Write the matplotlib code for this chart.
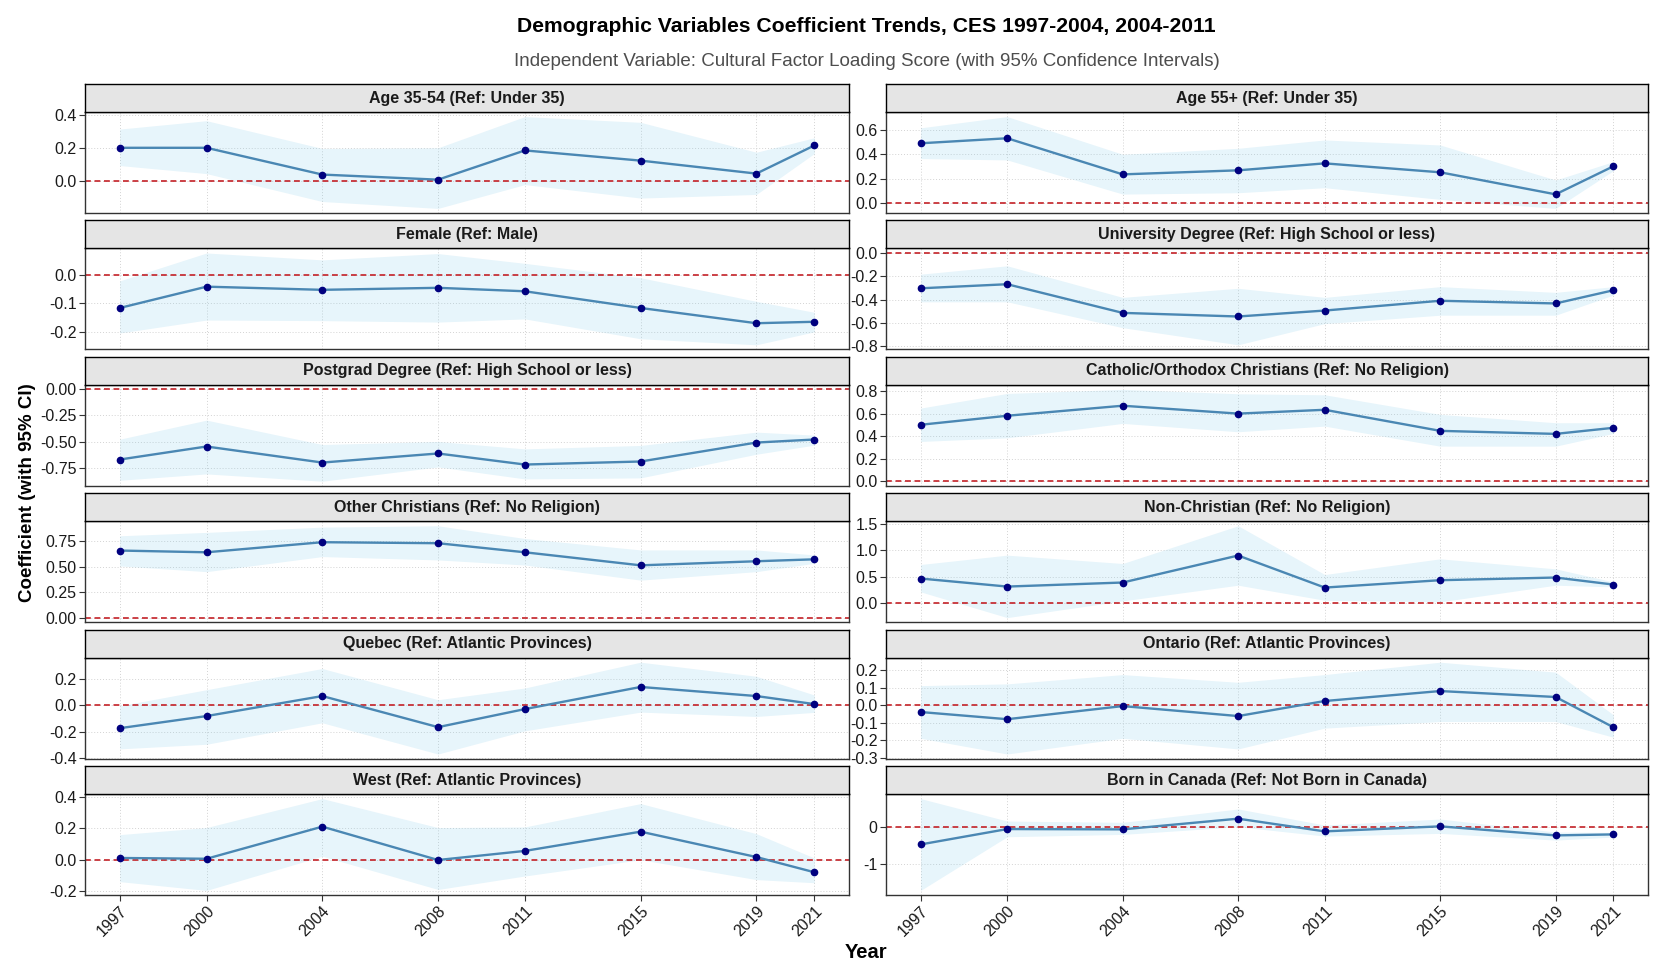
import numpy as np
import matplotlib
matplotlib.use("Agg")
import matplotlib.pyplot as plt

plt.rcParams['font.family'] = ['Liberation Sans', 'DejaVu Sans']

years = [1997, 2000, 2004, 2008, 2011, 2015, 2019, 2021]

titles = [
    "Age 35-54 (Ref: Under 35)", "Age 55+ (Ref: Under 35)",
    "Female (Ref: Male)", "University Degree (Ref: High School or less)",
    "Postgrad Degree (Ref: High School or less)", "Catholic/Orthodox Christians (Ref: No Religion)",
    "Other Christians (Ref: No Religion)", "Non-Christian (Ref: No Religion)",
    "Quebec (Ref: Atlantic Provinces)", "Ontario (Ref: Atlantic Provinces)",
    "West (Ref: Atlantic Provinces)", "Born in Canada (Ref: Not Born in Canada)",
]

# coefficients
age3554_est = [0.200, 0.200, 0.037, 0.006, 0.184, 0.122, 0.043, 0.214]
age3554_lo  = [0.092, 0.043, -0.127, -0.169, -0.024, -0.106, -0.084, 0.165]
age3554_hi  = [0.314, 0.365, 0.196, 0.200, 0.390, 0.355, 0.173, 0.261]

age55_est = [0.491, 0.532, 0.237, 0.270, 0.327, 0.254, 0.074, 0.303]
age55_lo  = [0.366, 0.355, 0.076, 0.087, 0.128, 0.033, -0.041, 0.267]
age55_hi  = [0.617, 0.709, 0.401, 0.450, 0.518, 0.477, 0.191, 0.341]

female_est = [-0.116, -0.042, -0.053, -0.046, -0.058, -0.116, -0.169, -0.164]
female_lo  = [-0.203, -0.158, -0.160, -0.165, -0.154, -0.223, -0.244, -0.199]
female_hi  = [-0.022, 0.075, 0.051, 0.073, 0.039, -0.011, -0.093, -0.131]

univ_est = [-0.303, -0.268, -0.514, -0.545, -0.494, -0.410, -0.433, -0.320]
univ_lo  = [-0.419, -0.419, -0.641, -0.788, -0.606, -0.534, -0.534, -0.361]
univ_hi  = [-0.182, -0.110, -0.381, -0.303, -0.381, -0.289, -0.338, -0.289]

postgrad_est = [-0.673, -0.548, -0.702, -0.615, -0.721, -0.692, -0.510, -0.481]
postgrad_lo  = [-0.872, -0.811, -0.881, -0.744, -0.859, -0.849, -0.622, -0.535]
postgrad_hi  = [-0.478, -0.295, -0.529, -0.500, -0.571, -0.538, -0.410, -0.439]

catholic_est = [0.501, 0.581, 0.670, 0.600, 0.634, 0.447, 0.420, 0.474]
catholic_lo  = [0.353, 0.385, 0.513, 0.439, 0.489, 0.311, 0.311, 0.424]
catholic_hi  = [0.649, 0.779, 0.815, 0.776, 0.767, 0.593, 0.519, 0.519]

otherchr_est = [0.658, 0.641, 0.740, 0.730, 0.641, 0.513, 0.553, 0.572]
otherchr_lo  = [0.507, 0.451, 0.599, 0.566, 0.516, 0.368, 0.451, 0.533]
otherchr_hi  = [0.803, 0.836, 0.888, 0.901, 0.776, 0.664, 0.664, 0.615]

nonchr_est = [0.464, 0.311, 0.388, 0.902, 0.292, 0.432, 0.483, 0.349]
nonchr_lo  = [0.210, -0.280, 0.038, 0.337, 0.050, 0.020, 0.337, 0.305]
nonchr_hi  = [0.731, 0.909, 0.750, 1.468, 0.540, 0.839, 0.648, 0.400]

quebec_est = [-0.173, -0.081, 0.071, -0.165, -0.028, 0.140, 0.071, 0.010]
quebec_lo  = [-0.330, -0.295, -0.132, -0.369, -0.193, -0.051, -0.084, -0.053]
quebec_hi  = [-0.003, 0.119, 0.280, 0.043, 0.132, 0.328, 0.221, 0.079]

ontario_est = [-0.038, -0.079, -0.004, -0.061, 0.025, 0.082, 0.048, -0.125]
ontario_lo  = [-0.188, -0.278, -0.188, -0.249, -0.130, -0.092, -0.092, -0.182]
ontario_hi  = [0.113, 0.123, 0.176, 0.132, 0.176, 0.247, 0.190, -0.054]

west_est = [0.011, 0.006, 0.211, -0.002, 0.056, 0.179, 0.017, -0.080]
west_lo  = [-0.140, -0.196, 0.022, -0.190, -0.104, 0.000, -0.127, -0.147]
west_hi  = [0.160, 0.205, 0.390, 0.205, 0.209, 0.358, 0.166, 0.011]

born_est = [-0.468, -0.046, -0.055, 0.239, -0.110, 0.028, -0.220, -0.193]
born_lo  = [-1.730, -0.257, -0.193, 0.018, -0.239, -0.165, -0.349, -0.266]
born_hi  = [0.790, 0.174, 0.138, 0.505, 0.064, 0.229, -0.128, -0.138]

series = [
    (age3554_est, age3554_lo, age3554_hi), (age55_est, age55_lo, age55_hi),
    (female_est, female_lo, female_hi), (univ_est, univ_lo, univ_hi),
    (postgrad_est, postgrad_lo, postgrad_hi), (catholic_est, catholic_lo, catholic_hi),
    (otherchr_est, otherchr_lo, otherchr_hi), (nonchr_est, nonchr_lo, nonchr_hi),
    (quebec_est, quebec_lo, quebec_hi), (ontario_est, ontario_lo, ontario_hi),
    (west_est, west_lo, west_hi), (born_est, born_lo, born_hi),
]

yticks = [
    [0.0, 0.2, 0.4], [0.0, 0.2, 0.4, 0.6],
    [-0.2, -0.1, 0.0], [-0.8, -0.6, -0.4, -0.2, 0.0],
    [-0.75, -0.50, -0.25, 0.00], [0.0, 0.2, 0.4, 0.6, 0.8],
    [0.00, 0.25, 0.50, 0.75], [0.0, 0.5, 1.0, 1.5],
    [-0.4, -0.2, 0.0, 0.2], [-0.3, -0.2, -0.1, 0.0, 0.1, 0.2],
    [-0.2, 0.0, 0.2, 0.4], [-1, 0],
]
ytick_fmt = ["%.1f", "%.1f", "%.1f", "%.1f", "%.2f", "%.1f",
             "%.2f", "%.1f", "%.1f", "%.1f", "%.1f", "%.0f"]

W, H = 1666, 980
fig = plt.figure(figsize=(W / 100, H / 100), dpi=100)

col_x = [(85, 849), (886, 1648)]
top0 = 84
pitch = 136.4
strip_h = 28
panel_h = 101

tick_color = "#1a1a1a"
for i, (title, (est, lo, hi)) in enumerate(zip(titles, series)):
    r, c = divmod(i, 2)
    x0, x1 = col_x[c]
    st = top0 + r * pitch
    pt = st + strip_h
    pb = pt + panel_h
    ax = fig.add_axes([x0 / W, 1 - pb / H, (x1 - x0) / W, panel_h / H])
    sax = fig.add_axes([x0 / W, 1 - pt / H, (x1 - x0) / W, strip_h / H])

    est = np.array(est); lo = np.array(lo); hi = np.array(hi)
    ax.fill_between(years, lo, hi, color="#87CEEB", alpha=0.2, lw=0, zorder=1)
    ax.axhline(0, color="#C42127", lw=1.2, ls=(0, (3.5, 2.2)), zorder=2)
    ax.plot(years, est, color="#4A87B3", lw=1.7, zorder=3)
    ax.plot(years, est, 'o', color="#00007F", ms=4.5, zorder=4)

    ymin = min(lo.min(), 0); ymax = max(hi.max(), 0)
    pad = 0.05 * (ymax - ymin)
    ax.set_ylim(ymin - pad, ymax + pad)
    ax.set_xlim(years[0] - 1.2, years[-1] + 1.2)
    ax.set_yticks(yticks[i])
    ax.set_yticklabels([ytick_fmt[i] % v for v in yticks[i]])
    ax.set_xticks(years)
    ax.grid(True, color="#D3D3D3", lw=0.7, ls=(0, (1, 2)))
    ax.set_axisbelow(True)
    for s in ax.spines.values():
        s.set_color("#333333"); s.set_linewidth(1.0)
    ax.tick_params(axis='y', labelsize=11.5, colors="#333333", labelcolor=tick_color,
                   length=4, width=0.8, pad=2)
    if r == 5:
        ax.tick_params(axis='x', labelsize=11.5, colors="#333333", labelcolor=tick_color,
                       length=4, width=0.8, pad=2)
        ax.set_xticklabels([str(y) for y in years], rotation=45, ha='right',
                           rotation_mode='anchor')
    else:
        ax.tick_params(axis='x', length=0, labelbottom=False)

    sax.set_facecolor("#E5E5E5")
    sax.set_xticks([]); sax.set_yticks([])
    for s in sax.spines.values():
        s.set_color("black"); s.set_linewidth(1.0)
    sax.text(0.5, 0.5, title, ha='center', va='center', fontsize=11.5,
             fontweight='bold', color="#1a1a1a", transform=sax.transAxes)

cx = (85 + 1648) / 2 / W
fig.text(cx, 1 - 27 / H, "Demographic Variables Coefficient Trends, CES 1997-2004, 2004-2011",
         ha='center', va='center', fontsize=15.2, fontweight='bold', color='black')
fig.text(cx, 1 - 61 / H,
         "Independent Variable: Cultural Factor Loading Score (with 95% Confidence Intervals)",
         ha='center', va='center', fontsize=13.5, color="#4D4D4D")
fig.text(cx, 1 - 952 / H, "Year", ha='center', va='center', fontsize=14.5,
         fontweight='bold', color='black')
fig.text(28 / W, 1 - 493 / H, "Coefficient (with 95% CI)", ha='center',
         va='center', rotation=90, fontsize=13.5, fontweight='bold', color='black')

fig.savefig("out.png", dpi=100, facecolor='white')
